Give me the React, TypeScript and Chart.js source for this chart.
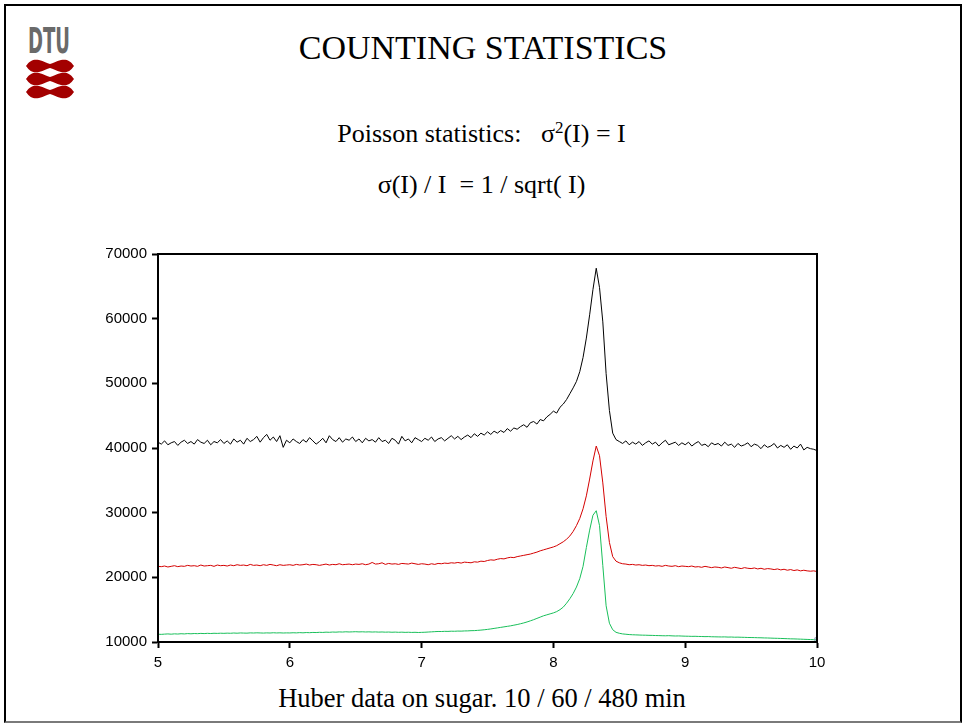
import React, { useEffect, useRef } from "react";
import { Chart, registerables } from "chart.js";

Chart.register(...registerables);

// Sampling positions (time axis), 5.000 .. 10.000 in steps of 0.025
const xStart = 5;
const xStep = 0.025;
const sampleCount = 201;

const xTicks = [5, 6, 7, 8, 9, 10];
const yTicks = [10000, 20000, 30000, 40000, 50000, 60000, 70000];

// 10 min measurement (black)
const series10min = [
  40900, 40600, 41100, 40500, 40800, 41000, 40400, 40900, 41200, 40700,
  41000, 40600, 41300, 40900, 40700, 41200, 40500, 41000, 40800, 41300,
  40700, 41100, 40600, 41400, 40900, 41200, 40600, 41500, 41000, 41300,
  41800, 40900, 41600, 42100, 41200, 41700, 41000, 41900, 40100, 41200,
  40800, 41400, 41000, 40700, 41300, 40900, 41600, 41100, 40600, 41000,
  41500, 40800, 41900, 41300, 41000, 41600, 40900, 41400, 41200, 41700,
  41000, 41400, 40800, 41500, 41100, 41300, 40900, 41600, 41000, 41200,
  40700, 41500, 41200, 40600, 41800, 41100, 41400, 40800, 41600, 41300,
  41000, 41500, 41200, 41700, 41000, 41400, 41600, 41100, 41500, 41900,
  41400, 41800, 41300, 41700, 42000, 41600, 42200, 41800, 42300, 42000,
  42500, 42100, 42600, 42300, 42700, 42400, 43000, 42600, 43100, 42900,
  43300, 43600, 43200, 43900, 44100, 43700, 44400, 44200, 44800, 45200,
  45700, 45400, 46300, 46800, 47500, 48400, 49300, 50300, 51800, 54000,
  57000, 60600, 64500, 67800, 64800, 59500, 51500, 45800, 42300, 41300,
  41000, 40700, 41100, 40500, 40900, 40600, 41000, 40400, 40800, 41100,
  40600, 40900, 40300, 40800, 41200, 40500, 40700, 40900, 40400, 40800,
  40500, 40900, 40300, 40700, 41000, 40400, 40600, 40200, 40800, 40500,
  40700, 40300, 40900, 40400, 40600, 40100, 40700, 40300, 40500, 40800,
  40200, 40600, 40400, 39900, 40500, 40100, 40300, 40700, 40000, 40400,
  40100, 40500, 39800, 40300, 40000, 40600, 39700, 40100, 39900, 39800,
  39600,
];

// 60 min measurement (red)
const series60min = [
  21700, 21650, 21750, 21600, 21700, 21800, 21650, 21750, 21700, 21850,
  21750, 21800, 21700, 21900, 21750, 21800, 21850, 21700, 21900, 21800,
  21850, 21750, 21900, 21800, 21950, 21850, 21900, 21800, 22000, 21850,
  21900, 21800, 21950, 21850, 22000, 21900, 21800, 21950, 21850, 21900,
  21950, 21850, 22000, 21900, 21950, 22050, 21900, 22000, 21950, 21850,
  21950, 22050, 21900, 22000, 21950, 22100, 21950, 22000, 22050, 21950,
  22050, 22000, 22100, 21950, 22050, 22300, 22050, 22100, 22250, 22000,
  22150, 22050, 22100, 22000, 22150, 22100, 22050, 22200, 22100, 22000,
  22100, 22050, 21950, 22100, 22000, 22150, 22100, 22200, 22150, 22250,
  22200, 22300, 22200, 22350, 22300, 22250, 22400, 22350, 22500, 22450,
  22600, 22700, 22650, 22800, 22900, 22850, 23000, 23100, 23050, 23200,
  23300, 23400, 23500, 23600, 23750, 23900, 24100, 24250, 24400, 24550,
  24700, 24900, 25200, 25500, 25900, 26400, 27100, 28000, 29100, 30600,
  32600, 35200, 38000, 40300, 38800, 34600, 29400, 25400, 23200, 22500,
  22250, 22100, 22050, 21950, 22000, 21900, 21950, 21850, 21900, 21800,
  21850, 21750, 21800, 21700, 21850, 21750, 21700, 21800, 21650, 21750,
  21700, 21650, 21750, 21600, 21650, 21550, 21700, 21600, 21500, 21600,
  21550, 21450, 21600, 21500, 21400, 21550, 21450, 21350, 21500, 21400,
  21350, 21450, 21300, 21400, 21250, 21350, 21300, 21200, 21300, 21150,
  21250, 21100, 21200, 21050, 21150, 21000, 21100, 21000, 20950, 21000,
  20900,
];

// 480 min measurement (green)
const series480min = [
  11200, 11180, 11220, 11250, 11210, 11260, 11230, 11280, 11250, 11300,
  11270, 11310, 11290, 11330, 11300, 11340, 11310, 11350, 11330, 11360,
  11340, 11370, 11350, 11390, 11360, 11400, 11380, 11370, 11410, 11390,
  11420, 11400, 11380, 11410, 11390, 11430, 11400, 11420, 11390, 11410,
  11400, 11430, 11410, 11450, 11420, 11460, 11440, 11480, 11460, 11500,
  11480, 11520, 11500, 11540, 11520, 11560, 11540, 11580, 11550, 11570,
  11590, 11560, 11580, 11550, 11570, 11540, 11560, 11530, 11550, 11520,
  11540, 11510, 11530, 11500, 11520, 11490, 11510, 11480, 11500, 11470,
  11490, 11510, 11540, 11570, 11600, 11630, 11620, 11650, 11640, 11670,
  11660, 11690, 11680, 11710, 11720, 11750, 11760, 11800, 11840, 11890,
  11950, 12020, 12100, 12180, 12260, 12340, 12420, 12500, 12600, 12700,
  12820, 12950, 13100, 13270, 13450, 13650, 13850, 14050, 14200, 14350,
  14500, 14700, 15000, 15400, 16000, 16700, 17500, 18500, 19800, 21700,
  24600, 27300, 29600, 30300, 28000, 21800, 15600, 12900, 11900, 11500,
  11350, 11250, 11200, 11150, 11120, 11100, 11080, 11060, 11050, 11030,
  11020, 11000, 10990, 10970, 10960, 10980, 10950, 10930, 10940, 10920,
  10900, 10890, 10870, 10880, 10860, 10850, 10830, 10840, 10810, 10800,
  10790, 10780, 10790, 10760, 10770, 10740, 10750, 10730, 10720, 10700,
  10690, 10680, 10660, 10650, 10630, 10620, 10600, 10580, 10570, 10550,
  10530, 10510, 10490, 10480, 10460, 10440, 10420, 10400, 10380, 10360,
  10320,
];

const seriesNames = ["10 min", "60 min", "480 min"];
const seriesColors = ["#000000", "#d40000", "#19bf5a"];

const xValues = Array.from({ length: sampleCount }, (_, i) =>
  Number((xStart + xStep * i).toFixed(3))
);

const frameBox = {
  id: "frameBox",
  afterDraw(chart: any) {
    const { ctx, chartArea } = chart;
    ctx.save();
    ctx.strokeStyle = "#000";
    ctx.lineWidth = 2;
    ctx.strokeRect(
      chartArea.left,
      chartArea.top,
      chartArea.right - chartArea.left,
      chartArea.bottom - chartArea.top
    );
    ctx.restore();
  },
};

function ChartCanvas() {
  const ref = useRef<HTMLCanvasElement | null>(null);
  useEffect(() => {
    if (!ref.current) return;
    const allSeries = [series10min, series60min, series480min];
    const tickFont = { family: "'Liberation Sans', Arial, sans-serif", size: 15 };
    const chart = new Chart(ref.current, {
      type: "line",
      data: {
        datasets: allSeries.map((vals, k) => ({
          label: seriesNames[k],
          data: vals.map((v, i) => ({ x: xValues[i], y: v })),
          borderColor: seriesColors[k],
          borderWidth: 1,
          fill: false,
          tension: 0,
          pointRadius: k === 2 ? vals.map((_, i) => (i === vals.length - 1 ? 3 : 0)) : 0,
          pointStyle: "rect",
          pointBorderColor: "#8a9bb8",
          pointBackgroundColor: "rgba(0,0,0,0)",
          pointBorderWidth: 1,
        })),
      },
      options: {
        animation: false,
        responsive: false,
        events: [],
        layout: { padding: { top: 13, right: 23, left: 0, bottom: 0 } },
        plugins: {
          legend: { display: false },
          tooltip: { enabled: false },
        },
        scales: {
          x: {
            type: "linear",
            min: xTicks[0],
            max: xTicks[xTicks.length - 1],
            afterFit: (s: any) => {
              s.height = 38;
            },
            afterBuildTicks: (s: any) => {
              s.ticks = xTicks.map((v) => ({ value: v }));
            },
            ticks: {
              color: "#000",
              font: tickFont,
              padding: 6,
              maxRotation: 0,
              callback: (v: any) => String(v),
            },
            grid: {
              drawOnChartArea: false,
              drawTicks: true,
              tickLength: 6,
              tickColor: "#000",
              tickWidth: 2,
            },
            border: { display: true, color: "#000", width: 2 },
          },
          y: {
            type: "linear",
            min: yTicks[0],
            max: yTicks[yTicks.length - 1],
            afterFit: (s: any) => {
              s.width = 78;
            },
            afterBuildTicks: (s: any) => {
              s.ticks = yTicks.map((v) => ({ value: v }));
            },
            ticks: {
              color: "#000",
              font: tickFont,
              padding: 5,
              callback: (v: any) => String(v),
            },
            grid: {
              drawOnChartArea: false,
              drawTicks: true,
              tickLength: 6,
              tickColor: "#000",
              tickWidth: 2,
            },
            border: { display: true, color: "#000", width: 2 },
          },
        },
      },
      plugins: [frameBox],
    });
    return () => chart.destroy();
  }, []);
  return (
    <canvas
      ref={ref}
      width={760}
      height={440}
      style={{ position: "absolute", left: 80, top: 240, width: 760, height: 440 }}
    />
  );
}

const serif = "'Liberation Serif', 'Times New Roman', serif";

function Lobe({ cy }: { cy: number }) {
  const d = `M26,${cy} C30,${cy - 6} 34,${cy - 7} 39,${cy - 6} C44,${cy - 5} 47,${cy - 2.5} 50,${cy - 2} C53,${cy - 2.5} 56,${cy - 5} 61,${cy - 6} C66,${cy - 7} 70,${cy - 6} 74,${cy} C70,${cy + 6} 66,${cy + 7} 61,${cy + 6} C56,${cy + 5} 53,${cy + 2.5} 50,${cy + 2} C47,${cy + 2.5} 44,${cy + 5} 39,${cy + 6} C34,${cy + 7} 30,${cy + 6} 26,${cy} Z`;
  return <path d={d} fill="#a30000" />;
}

export default function App() {
  return (
    <div
      style={{
        position: "absolute",
        left: 0,
        top: 0,
        width: 964,
        height: 723,
        background: "#fff",
        overflow: "hidden",
        fontFamily: serif,
      }}
    >
      <div
        style={{
          position: "absolute",
          left: 4,
          top: 4,
          width: 954,
          height: 715,
          borderLeft: "2px solid #000",
          borderTop: "2px solid #000",
          borderRight: "2px solid #000",
          borderBottom: "2px solid #7a7a7a",
        }}
      />
      <svg
        width={100}
        height={110}
        style={{ position: "absolute", left: 0, top: 0 }}
      >
        <text
          x={28}
          y={53}
          textLength={42}
          lengthAdjust="spacingAndGlyphs"
          fontFamily="'DejaVu Sans Condensed', 'DejaVu Sans', sans-serif"
          fontWeight="bold"
          fontSize={36}
          fill="#6a6a6a"
        >
          DTU
        </text>
        <Lobe cy={66} />
        <Lobe cy={79} />
        <Lobe cy={92} />
      </svg>
      <div
        style={{
          position: "absolute",
          left: 0,
          width: 966,
          top: 28,
          height: 40,
          lineHeight: "40px",
          textAlign: "center",
          fontSize: 34,
          color: "#000",
        }}
      >
        COUNTING STATISTICS
      </div>
      <div
        style={{
          position: "absolute",
          left: 0,
          width: 963,
          top: 118,
          height: 32,
          lineHeight: "32px",
          textAlign: "center",
          fontSize: 26,
          whiteSpace: "pre",
          color: "#000",
        }}
      >
        {"Poisson statistics:   σ"}
        <span style={{ fontSize: 17, position: "relative", top: -9 }}>2</span>
        {"(I) = I"}
      </div>
      <div
        style={{
          position: "absolute",
          left: 0,
          width: 963,
          top: 169,
          height: 32,
          lineHeight: "32px",
          textAlign: "center",
          fontSize: 26,
          whiteSpace: "pre",
          color: "#000",
        }}
      >
        {"σ(I) / I  = 1 / sqrt( I)"}
      </div>
      <ChartCanvas />
      <div
        style={{
          position: "absolute",
          left: 0,
          width: 964,
          top: 682,
          height: 32,
          lineHeight: "32px",
          textAlign: "center",
          fontSize: 26.5,
          whiteSpace: "pre",
          color: "#000",
        }}
      >
        Huber data on sugar. 10 / 60 / 480 min
      </div>
    </div>
  );
}
